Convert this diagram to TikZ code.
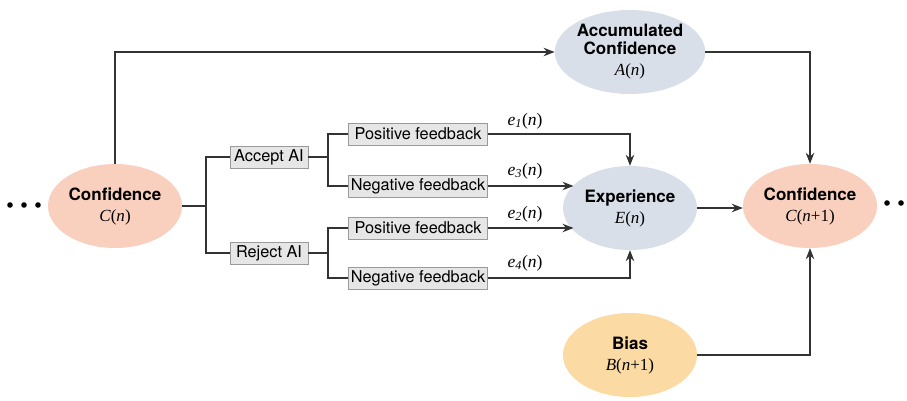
\documentclass[tikz,border=0pt]{standalone}
\usepackage{fontspec}
\setmainfont{Liberation Serif}
\setsansfont{TeX Gyre Heros}
\usetikzlibrary{shapes.geometric,arrows.meta}
\definecolor{confc}{HTML}{F9D0BE}
\definecolor{expc}{HTML}{D9DFE9}
\definecolor{biasc}{HTML}{FCDAA4}
\definecolor{boxc}{HTML}{E6E6E6}
\definecolor{boxd}{HTML}{9A9A9A}
\definecolor{linec}{HTML}{333333}
\tikzset{
  ell/.style={ellipse, minimum width=134pt, minimum height=84pt, inner sep=0pt, align=center,
    font=\fontsize{17}{21}\selectfont},
  conf/.style={ell, fill=confc},
  expn/.style={ell, fill=expc},
  biasn/.style={ell, fill=biasc},
  fbbox/.style={draw=boxd, fill=boxc, line width=0.8pt, font=\sffamily\fontsize{16.3}{18}\selectfont,
    inner sep=0pt, minimum height=22pt, minimum width=139pt},
  acbox/.style={fbbox, minimum width=78pt},
  conn/.style={draw=linec, line width=1.2pt},
  arr/.style={conn, -{Stealth[length=11pt,width=8.5pt]}},
  lab/.style={font=\fontsize{17.5}{19}\selectfont, inner sep=0pt},
  dotf/.style={fill=black}
}
\newcommand{\bsf}[1]{{\sffamily\bfseries #1}}
\begin{document}
\begin{tikzpicture}[x=1pt,y=-1pt]
\useasboundingbox (0,0) rectangle (907,401);
% ellipses
\node[conf] (c0) at (115,206) {\bsf{Confidence}\\\textit{C}(\textit{n})};
\node[expn] (acc) at (630,52) {\bsf{Accumulated}\\[-3pt]\bsf{Confidence}\\\textit{A}(\textit{n})};
\node[expn] (exp) at (630,208) {\bsf{Experience}\\\textit{E}(\textit{n})};
\node[conf] (c1) at (810,206) {\bsf{Confidence}\\\textit{C}(\textit{n}+1)};
\node[biasn] (bias) at (630,355) {\bsf{Bias}\\\textit{B}(\textit{n}+1)};
% boxes
\node[acbox] (acc1) at (269,157) {Accept AI};
\node[acbox] (rej1) at (269,253) {Reject AI};
\node[fbbox] (pf1) at (418,134) {Positive feedback};
\node[fbbox] (nf1) at (418,186) {Negative feedback};
\node[fbbox] (pf2) at (418,228) {Positive feedback};
\node[fbbox] (nf2) at (418,278) {Negative feedback};
% labels
\node[lab] (e1) at (525,121) {\textit{e}\textsubscript{\textit{1}}(\textit{n})};
\node[lab] (e3) at (525,171) {\textit{e}\textsubscript{\textit{3}}(\textit{n})};
\node[lab] (e2) at (525,214) {\textit{e}\textsubscript{\textit{2}}(\textit{n})};
\node[lab] (e4) at (525,263) {\textit{e}\textsubscript{\textit{4}}(\textit{n})};
% dots
\fill[dotf] (10,205) circle (2.8);
\fill[dotf] (24,205) circle (2.8);
\fill[dotf] (38,205) circle (2.8);
\fill[dotf] (887,203) circle (2.8);
\fill[dotf] (901,203) circle (2.8);
% tree connectors
\coordinate (j1) at (206,206);
\draw[conn] (c0.east) -- (j1);
\draw[conn] (acc1.west) -| (j1) |- (rej1.west);
\coordinate (j2) at (328,157);
\draw[conn] (acc1.east) -- (j2);
\draw[conn] (pf1.west) -| (j2) |- (nf1.west);
\coordinate (j3) at (328,253);
\draw[conn] (rej1.east) -- (j3);
\draw[conn] (pf2.west) -| (j3) |- (nf2.west);
% arrows to experience
\draw[arr] (pf1.east) -| (exp.north);
\draw[arr] (nf1.east) -- (nf1.east -| exp.158);
\draw[arr] (pf2.east) -- (pf2.east -| exp.202);
\draw[arr] (nf2.east) -| (exp.south);
% main flow
\draw[arr] (exp.east) -- (exp.east -| c1.west);
\draw[arr] (c0.north) |- (acc.west);
\draw[arr] (acc.east) -| (c1.north);
\draw[arr] (bias.east) -| (c1.south);
\end{tikzpicture}
\end{document}
